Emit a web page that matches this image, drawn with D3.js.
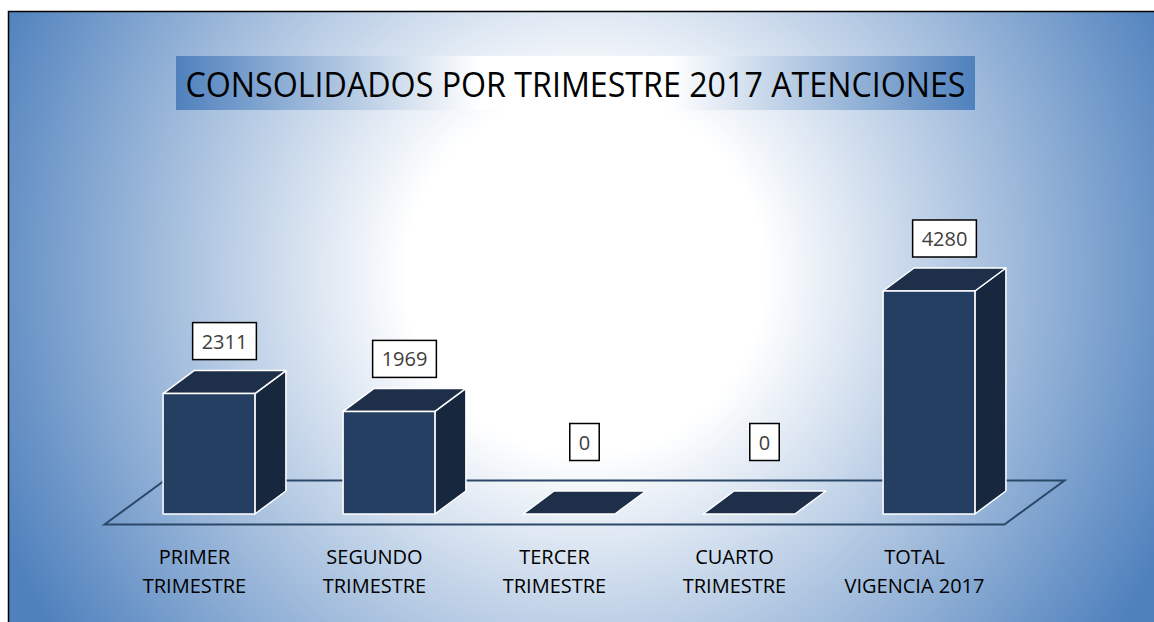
<!DOCTYPE html>
<html><head><meta charset="utf-8">
<script src="https://cdn.jsdelivr.net/npm/d3@7/dist/d3.min.js"></script>
<style>html,body{margin:0;padding:0;background:#fff;}svg{display:block;}</style>
</head><body><svg id="c" width="1154" height="622"></svg>
<script>
const titleText = "CONSOLIDADOS POR TRIMESTRE 2017 ATENCIONES";
const categories = ["PRIMER TRIMESTRE", "SEGUNDO TRIMESTRE", "TERCER TRIMESTRE", "CUARTO TRIMESTRE", "TOTAL VIGENCIA 2017"];
const categoryLines = [["PRIMER", "TRIMESTRE"], ["SEGUNDO", "TRIMESTRE"], ["TERCER", "TRIMESTRE"], ["CUARTO", "TRIMESTRE"], ["TOTAL", "VIGENCIA 2017"]];
const values = [2311, 1969, 0, 0, 4280];

const W = 1154, H = 622;
const svg = d3.select("#c");
const defs = svg.append("defs");

// background radial gradient
const bg = defs.append("radialGradient").attr("id", "bg").attr("gradientUnits", "userSpaceOnUse")
  .attr("cx", 585).attr("cy", 275).attr("r", 640);
bg.append("stop").attr("offset", 0).attr("stop-color", "#ffffff");
bg.append("stop").attr("offset", 0.28).attr("stop-color", "#ffffff");
bg.append("stop").attr("offset", 1).attr("stop-color", "#4f81bd");

const tg = defs.append("linearGradient").attr("id", "tg").attr("x1", 0).attr("x2", 1).attr("y1", 0).attr("y2", 0);
tg.append("stop").attr("offset", 0).attr("stop-color", "#4f81bd");
tg.append("stop").attr("offset", 0.38).attr("stop-color", "#ffffff");
tg.append("stop").attr("offset", 0.62).attr("stop-color", "#ffffff");
tg.append("stop").attr("offset", 1).attr("stop-color", "#4f81bd");

svg.append("rect").attr("x", 8.5).attr("y", 11.5).attr("width", W + 10).attr("height", H + 10)
  .attr("fill", "url(#bg)").attr("stroke", "#000").attr("stroke-width", 1.5);

// title
const tgG = svg.append("g");
const tRect = tgG.append("rect").attr("fill", "url(#tg)");
const tText = tgG.append("text").attr("x", 575.5).attr("y", 97)
  .attr("text-anchor", "middle").attr("font-family", "'Open Sans', sans-serif")
  .attr("font-size", 34).attr("fill", "#000").attr("textLength", 780).attr("lengthAdjust", "spacingAndGlyphs")
  .text(titleText);
tRect.attr("x", 176).attr("y", 56).attr("width", 799).attr("height", 54);

// scales
const x = d3.scaleBand().domain(categories).range([119, 1019]).paddingInner(0.49).paddingOuter(0.245);
const y = d3.scaleLinear().domain([0, 4280]).range([514, 291]);
const bd = {x: 31, y: 23};      // bar depth
const fd = {x: 60, y: 44};      // floor depth
const midX = v => v + bd.x / 2, midY = v => v - bd.y / 2;

// floor
const r0 = x.range()[0], r1 = x.range()[1];
const fx0 = midX(r0) - fd.x / 2, fx1 = midX(r1) - fd.x / 2;
const fy = midY(y(0)) + fd.y / 2;
const floorPts = [[fx0, fy], [fx1, fy], [fx1 + fd.x, fy - fd.y], [fx0 + fd.x, fy - fd.y]];
svg.append("path").attr("d", d3.line()(floorPts) + "Z")
  .attr("fill", "none").attr("stroke", "#2b4869").attr("stroke-width", 2).attr("stroke-linejoin", "miter");

// bars
const bw = x.bandwidth();
const bars = svg.append("g");
categories.forEach((c, i) => {
  const x0 = x(c), x1 = x0 + bw, yb = y(0), yt = y(values[i]);
  const g = bars.append("g");
  const st = {stroke: "#ffffff", "stroke-width": 1.5, "stroke-linejoin": "round"};
  const addP = (pts, fill) => {
    const p = g.append("path").attr("d", d3.line()(pts) + "Z").attr("fill", fill);
    Object.entries(st).forEach(([k, v]) => p.attr(k, v));
  };
  if (values[i] > 0) {
    addP([[x1, yb], [x1 + bd.x, yb - bd.y], [x1 + bd.x, yt - bd.y], [x1, yt]], "#17283e");
    addP([[x0, yt], [x1, yt], [x1 + bd.x, yt - bd.y], [x0 + bd.x, yt - bd.y]], "#1e2f4a");
    addP([[x0, yb], [x1, yb], [x1, yt], [x0, yt]], "#243f61");
  } else {
    addP([[x0, yb], [x1, yb], [x1 + bd.x, yb - bd.y], [x0 + bd.x, yb - bd.y]], "#1e2f4a");
  }
});

// value labels
const labels = svg.append("g").attr("font-family", "'Open Sans', sans-serif").attr("font-size", 20);
categories.forEach((c, i) => {
  const cx = midX(x(c) + bw / 2);
  const topBack = y(values[i]) - bd.y;
  const bottom = Math.min(topBack - 11, fy - fd.y - 20);
  const g = labels.append("g");
  const t = g.append("text").attr("x", cx).attr("y", bottom - 11).attr("text-anchor", "middle")
    .attr("fill", "#404040").text(values[i]);
  const bb = t.node().getBBox();
  g.insert("rect", "text").attr("x", cx - bb.width / 2 - 9).attr("y", bottom - 37)
    .attr("width", bb.width + 18).attr("height", 37)
    .attr("fill", "#fff").attr("stroke", "#000").attr("stroke-width", 1.5);
});

// category labels
const cl = svg.append("g").attr("font-family", "'Open Sans', sans-serif").attr("font-size", 20).attr("fill", "#000");
categories.forEach((c, i) => {
  const cx = x(c) + bw / 2 - (fd.x - bd.x) / 2;
  categoryLines[i].forEach((ln, j) => {
    cl.append("text").attr("x", cx).attr("y", fy + 39 + j * 29).attr("text-anchor", "middle").text(ln);
  });
});
</script></body></html>
